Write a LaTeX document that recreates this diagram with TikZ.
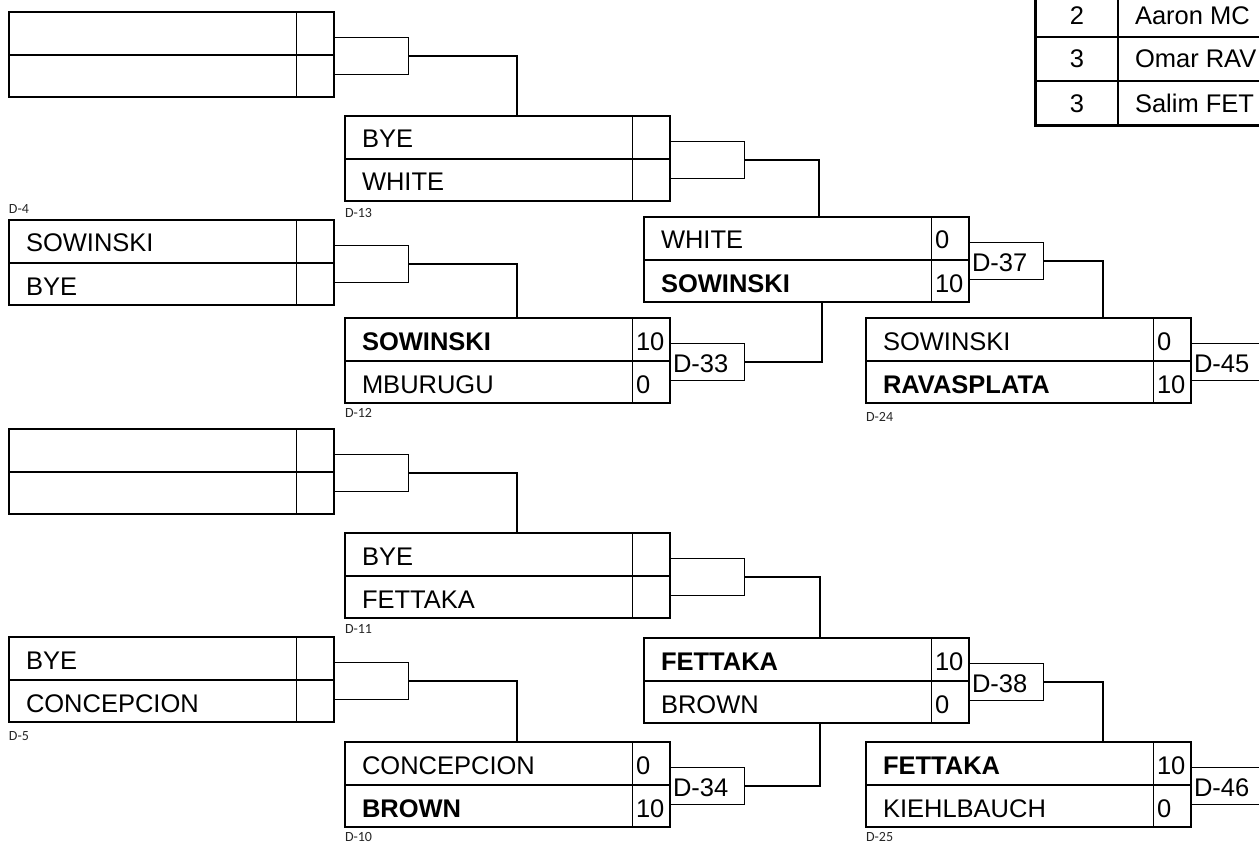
\documentclass[tikz,border=0pt]{standalone}
\usepackage{fontspec}
\setmainfont{Liberation Sans}
\newfontfamily\lblfont{Carlito}
\usetikzlibrary{calc}
\tikzset{
  ln/.style={line width=1.5pt, draw=black},
  thk/.style={line width=3pt, draw=black},
  wire/.style={line width=1.5pt, draw=black},
  mbox/.style={draw=black, line width=1.5pt, minimum width=325pt, minimum height=85pt, inner sep=0pt, outer sep=0pt},
  cbox/.style={draw=black, line width=1.5pt, minimum width=74.5pt, minimum height=37pt, inner sep=0pt, outer sep=0pt, anchor=west},
  nm/.style={inner sep=0pt, outer sep=0pt, font=\fontsize{25.5}{30}\selectfont, anchor=base west},
  lbl/.style={inner sep=0pt, outer sep=0pt, font=\lblfont\fontsize{14}{16}\selectfont, anchor=west, text=black!85},
}
% match box: name, x, top y, top name, top score, bottom name, bottom score
\newcommand\mmatch[7]{%
  \node[mbox, anchor=north west] (#1) at (#2,-#3) {};
  \draw[ln] ($(#1.north east)+(-37.5,0)$) -- ($(#1.south east)+(-37.5,0)$);
  \draw[ln] ($(#1.north west)+(0,-43)$) -- ($(#1.north east)+(0,-43)$);
  \node[nm] (#1a) at ($(#1.north west)+(17,-32)$) {#4};
  \node[nm] (#1b) at ($(#1.north west)+(17,-75)$) {#6};
  \node[nm] (#1sa) at ($(#1.north east)+(-34,-32)$) {#5};
  \node[nm] (#1sb) at ($(#1.north east)+(-34,-75)$) {#7};
}
% connector box: name, match, label
\newcommand\mconn[3]{%
  \node[cbox] (#1) at ($(#2.north east)+(0,-44)$) {};
  \node[nm] (#1t) at ($(#1.south west)+(3,8)$) {#3};
}
\begin{document}
\begin{tikzpicture}[x=1pt,y=1pt]
\useasboundingbox (0,0) rectangle (1259,-845);
\clip (0,0) rectangle (1259,-845);
\fill[white] (0,0) rectangle (1259,-845);

% column 1
\mmatch{e1}{9}{12}{}{}{}{}
\mmatch{m4}{9}{220}{SOWINSKI}{}{BYE}{}
\mmatch{e2}{9}{429}{}{}{}{}
\mmatch{m5}{9}{637}{BYE}{}{CONCEPCION}{}
% column 2
\mmatch{m13}{345}{116}{BYE}{}{WHITE}{}
\mmatch{m12}{345}{318}{\textbf{SOWINSKI}}{10}{MBURUGU}{0}
\mmatch{m11}{345}{533}{BYE}{}{FETTAKA}{}
\mmatch{m10}{345}{742}{CONCEPCION}{0}{\textbf{BROWN}}{10}
% column 3
\mmatch{m37}{644}{217}{WHITE}{0}{\textbf{SOWINSKI}}{10}
\mmatch{m38}{644}{638}{\textbf{FETTAKA}}{10}{BROWN}{0}
% column 4
\mmatch{m24}{866}{318}{SOWINSKI}{0}{\textbf{RAVASPLATA}}{10}
\mmatch{m25}{866}{742}{\textbf{FETTAKA}}{10}{KIEHLBAUCH}{0}

% connector boxes
\mconn{ce1}{e1}{}
\mconn{c4}{m4}{}
\mconn{ce2}{e2}{}
\mconn{c5}{m5}{}
\mconn{c13}{m13}{}
\mconn{c12}{m12}{D-33}
\mconn{c11}{m11}{}
\mconn{c10}{m10}{D-34}
\mconn{c37}{m37}{D-37}
\mconn{c38}{m38}{D-38}
\mconn{c24}{m24}{D-45}
\mconn{c25}{m25}{D-46}

% wires
\draw[wire] (ce1.east) -| ($(m13.north west)+(172,0)$);
\draw[wire] (c4.east) -| ($(m12.north west)+(172,0)$);
\draw[wire] (ce2.east) -| ($(m11.north west)+(172,0)$);
\draw[wire] (c5.east) -| ($(m10.north west)+(172,0)$);
\draw[wire] (c13.east) -| ($(m37.north west)+(175,0)$);
\draw[wire] (c12.east) -| ($(m37.south west)+(178,0)$);
\draw[wire] (c11.east) -| ($(m38.north west)+(176,0)$);
\draw[wire] (c10.east) -| ($(m38.south west)+(176,0)$);
\draw[wire] (c37.east) -| ($(m24.north west)+(237,0)$);
\draw[wire] (c38.east) -| ($(m25.north west)+(237,0)$);

% small labels
\node[lbl] (l4) at (9,-209) {D-4};
\node[lbl] (l13) at (345,-213) {D-13};
\node[lbl] (l12) at (345,-413) {D-12};
\node[lbl] (l24) at (866,-417) {D-24};
\node[lbl] (l11) at (345,-629) {D-11};
\node[lbl] (l5) at (9,-736) {D-5};
\node[lbl] (l10) at (345,-837) {D-10};
\node[lbl] (l25) at (866,-837) {D-25};

% standings table (top right)
\draw[ln] (1118,10) -- (1118,-126);
\draw[ln] (1035,-37) -- (1270,-37);
\draw[ln] (1035,-81) -- (1270,-81);
\draw[thk] (1035,10) -- (1035,-126) -- (1270,-126);
\node[nm, anchor=base] (t1n) at (1077,-25) {2};
\node[nm, anchor=base] (t2n) at (1077,-68) {3};
\node[nm, anchor=base] (t3n) at (1077,-113) {3};
\node[nm] (t1) at (1135,-25) {Aaron MC};
\node[nm] (t2) at (1135,-68) {Omar RAV};
\node[nm] (t3) at (1135,-113) {Salim FET};
\end{tikzpicture}
\end{document}
